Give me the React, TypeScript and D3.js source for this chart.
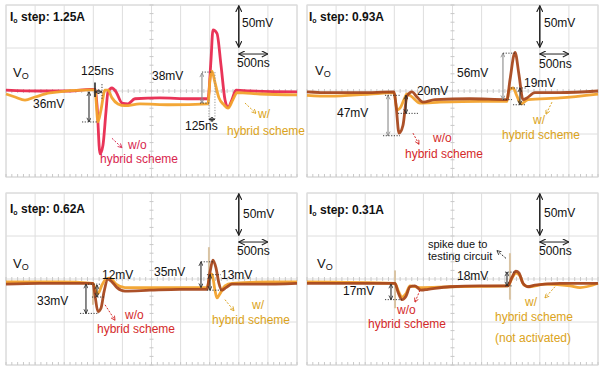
import React from "react"
import * as d3 from "d3"

type Pt = [number, number] // [time ns, Vo deviation mV]

// load current step of each capture
const stepCurrents = ["1.25A", "0.93A", "0.62A", "0.31A"]

// scope settings: 500ns/div, 50mV/div
const timeDomain = [0, 5000]
const voltDomain = [-100, 100]

// Vo traces without (w/o) and with (w/) the hybrid scheme
const woTrace1: Pt[] = [
  [0, 1], [584, 0], [1100, 0], [1443, 2], [1529, 2], [1563, -16], [1615, -73], [1666, -63],
  [1718, -24], [1752, -1], [1821, 3.5], [1890, -1], [1993, -14], [2096, -15], [2216, -9],
  [2646, -8], [3161, -9], [3470, -9], [3522, 36], [3556, 71], [3625, 67], [3694, 30],
  [3762, -10], [3814, -19], [3883, -10], [3952, 1], [4192, 0], [5000, -1],
]
const wTrace1: Pt[] = [
  [0, -3.5], [155, -7], [326, -10.5], [498, -7], [756, -2.3], [1443, 1.2], [1529, 1.2],
  [1580, -36], [1632, -22], [1700, 1], [1752, 1], [1821, -8], [1924, -15], [2044, -17],
  [2302, -15], [2818, -16], [3470, -15], [3505, 13], [3539, 23], [3590, 10], [3659, -8],
  [3745, -16], [3814, -20], [3900, -10], [3969, -2], [4364, -3.5], [5000, -4.6],
]
const woTrace2: Pt[] = [
  [0, -1], [395, -2], [910, -2], [1495, -1], [1529, -16], [1581, -49], [1649, -40],
  [1718, -6], [1804, -1], [1890, -7], [1993, -13], [2199, -10], [2800, -9], [3436, -10],
  [3488, 13], [3574, 45], [3642, 19], [3711, -10], [3780, -8], [3917, -2], [4347, -2], [5000, 0],
]
const wTrace2: Pt[] = [
  [0, -5], [395, -6], [1082, -3.5], [1495, -2], [1546, -22], [1598, -20], [1666, -10],
  [1718, -3.5], [1787, -6], [1941, -14], [2285, -13], [2972, -12], [3436, -12], [3470, 1],
  [3539, 3.5], [3608, -6], [3677, -15], [3797, -10], [4347, -8], [5000, -3.5],
]
const woTrace3: Pt[] = [
  [0, -6], [584, -5], [1271, -5], [1495, -5], [1529, -19], [1580, -38], [1632, -34],
  [1684, -15], [1752, 0], [1821, -3.5], [1907, -10], [2044, -14], [2474, -13], [2989, -12],
  [3453, -12], [3505, 8], [3556, 22], [3608, 13], [3659, -5], [3711, -13], [3780, -10],
  [3883, -6], [4364, -6], [5000, -5],
]
const wTrace3: Pt[] = [
  [0, -3.5], [928, -3.5], [1495, -5], [1546, -15], [1580, -17], [1649, -7], [1718, 0],
  [1787, 1], [1890, -6], [2044, -10], [2646, -10], [3453, -10], [3505, 3.5], [3539, 6],
  [3590, -13], [3625, -22], [3677, -17], [3762, -8], [3883, -5], [4536, -3.5], [5000, -3.5],
]
const woTrace4: Pt[] = [
  [0, -5], [910, -5], [1512, -5], [1563, -15], [1632, -24], [1701, -20], [1770, -9],
  [1855, -8], [1958, -13], [2079, -12], [2457, -9], [2972, -8], [3453, -8], [3522, 2],
  [3590, 9], [3642, 7], [3711, -5], [3797, -9], [3917, -7], [4347, -5], [5000, -5],
]
const wTrace4: Pt[] = [
  [0, -3.5], [1512, -5], [1563, -13], [1632, -21], [1701, -17], [1770, -8], [1941, -10],
  [2457, -9], [3453, -8], [3522, 1], [3590, 7], [3659, 3.5], [3728, -7], [3831, -9],
  [4089, -6], [4519, -8], [4691, -10], [5000, -5],
]

// switching spikes from the test circuit: [time ns, top mV, bottom mV]
const spikes3: [number, number, number][] = [[1495, -5, -30], [3487, 37, -13]]
const spikes4: [number, number, number][] = [[1512, 10, -34], [3487, 30, -24]]

// measurement marks in scope units
type Mark = { t0: number; v0: number; t1: number; v1: number; kind: "arrow" | "dot" | "solid" | "pointer"; color: string }

const mk = (kind: Mark["kind"], color: string, t0: number, v0: number, t1: number, v1: number): Mark => ({ kind, color, t0, v0, t1, v1 })
const DK = "#2a2a2a"
const GR = "#8a8a8a"
const RED1 = "#d8264f"
const RED = "#d42a2a"
const GOLD = "#dba320"

const marks1: Mark[] = [
  mk("arrow", DK, 1426, -1, 1426, -36), mk("dot", DK, 1306, -36, 1580, -36),
  mk("dot", DK, 1649, 8, 1649, -10), mk("solid", DK, 1529, 10, 1529, -7),
  mk("arrow", DK, 1529, -1, 1649, -1),
  mk("arrow", GR, 3367, -14, 3367, 21), mk("dot", DK, 3367, 22, 3556, 22),
  mk("dot", DK, 3333, -14, 3487, -14), mk("dot", GR, 3590, 22, 3590, -34),
  mk("dot", GR, 3487, -10, 3487, -34), mk("arrow", DK, 3487, -33, 3590, -33),
  mk("pointer", RED1, 1821, -55, 1993, -66), mk("pointer", GOLD, 4106, -14, 4295, -26),
]
const marks2: Mark[] = [
  mk("arrow", GR, 1392, -5, 1392, -52), mk("dot", DK, 1340, -5, 1598, -5),
  mk("dot", DK, 1306, -52, 1598, -52), mk("arrow", DK, 1700, -5, 1700, -26),
  mk("dot", DK, 1563, -26, 1907, -26),
  mk("arrow", GR, 3367, -10, 3367, 44), mk("dot", DK, 3367, 44, 3590, 44),
  mk("dot", DK, 3367, -10, 3522, -10), mk("arrow", DK, 3659, 3.5, 3659, -16),
  mk("dot", DK, 3505, 3.5, 3762, 3.5), mk("dot", DK, 3539, -16, 3762, -16),
  mk("pointer", RED, 1821, -49, 1924, -62), mk("pointer", GOLD, 4209, -13, 4106, -27),
]
const marks3: Mark[] = [
  mk("arrow", DK, 1374, -6, 1374, -40), mk("dot", DK, 1271, -40, 1598, -40),
  mk("dot", DK, 1409, -6, 1615, -6), mk("arrow", DK, 1563, -7, 1563, -21),
  mk("dot", DK, 1477, -21, 1684, -21),
  mk("arrow", DK, 3350, -10, 3350, 20), mk("dot", DK, 3350, 20, 3574, 20),
  mk("arrow", DK, 3505, 5, 3505, -13), mk("dot", DK, 3453, 5, 3694, 5),
  mk("dot", DK, 3453, -13, 3694, -13),
  mk("pointer", RED, 1701, -30, 1873, -48), mk("pointer", GOLD, 3762, -24, 3917, -37),
]
const marks4: Mark[] = [
  mk("arrow", DK, 1443, -6, 1443, -24), mk("dot", DK, 1340, -24, 1632, -24),
  mk("arrow", DK, 3436, -8, 3436, 8), mk("dot", DK, 3402, 8, 3590, 8),
  mk("dot", DK, 3402, -8, 3522, -8),
  mk("pointer", RED, 1941, -13, 1855, -27), mk("pointer", GOLD, 4261, -9, 4089, -22),
  mk("pointer", DK, 3419, 24, 3264, 33),
]

type Label = { text: string; x: number; y: number; color?: string; size?: number }

const labels1: Label[] = [
  { text: "125ns", x: 75, y: 70 }, { text: "36mV", x: 27, y: 103 }, { text: "38mV", x: 146, y: 75 },
  { text: "125ns", x: 179, y: 125 }, { text: "w/o", x: 122, y: 144, color: RED1 },
  { text: "hybrid scheme", x: 94, y: 158, color: RED1 }, { text: "w/", x: 252, y: 113, color: GOLD },
  { text: "hybrid scheme", x: 221, y: 130, color: GOLD },
]
const labels2: Label[] = [
  { text: "56mV", x: 150, y: 72 }, { text: "19mV", x: 217, y: 82 }, { text: "20mV", x: 110, y: 90 },
  { text: "47mV", x: 30, y: 112 }, { text: "w/o", x: 126, y: 137, color: RED },
  { text: "hybrid scheme", x: 98, y: 153, color: RED }, { text: "w/", x: 226, y: 119, color: GOLD },
  { text: "hybrid scheme", x: 195, y: 134, color: GOLD },
]
const labels3: Label[] = [
  { text: "12mV", x: 96, y: 86 }, { text: "33mV", x: 31, y: 112 }, { text: "35mV", x: 148, y: 83 },
  { text: "13mV", x: 215, y: 86 }, { text: "w/o", x: 119, y: 126, color: RED },
  { text: "hybrid scheme", x: 91, y: 140, color: RED }, { text: "w/", x: 246, y: 116, color: GOLD },
  { text: "hybrid scheme", x: 206, y: 131, color: GOLD },
]
const labels4: Label[] = [
  { text: "spike due to", x: 121, y: 55, size: 11 }, { text: "testing circuit", x: 121, y: 67, size: 11 },
  { text: "18mV", x: 150, y: 87 }, { text: "17mV", x: 36, y: 102 },
  { text: "w/o", x: 90, y: 121, color: RED }, { text: "hybrid scheme", x: 61, y: 135, color: RED },
  { text: "w/", x: 218, y: 113, color: GOLD }, { text: "hybrid scheme", x: 188, y: 128, color: GOLD },
  { text: "(not activated)", x: 188, y: 149, color: GOLD },
]

const W = 291
const H = 172
const FONT = "'Liberation Sans', Arial, sans-serif"

const panels = [
  { ox: 6, oy: 5, step: stepCurrents[0], wo: woTrace1, w: wTrace1, spikes: [], marks: marks1, labels: labels1,
    woColor: "#e8294f", title: [4, 16], vo: [7, 72], scaleTxt: [236, 22, 231, 62], woFirst: true },
  { ox: 307, oy: 5, step: stepCurrents[1], wo: woTrace2, w: wTrace2, spikes: [], marks: marks2, labels: labels2,
    woColor: "#a8481e", title: [2, 16], vo: [8, 70], scaleTxt: [237, 22, 232, 63], woFirst: false },
  { ox: 6, oy: 193, step: stepCurrents[2], wo: woTrace3, w: wTrace3, spikes: spikes3, marks: marks3, labels: labels3,
    woColor: "#a8481e", title: [4, 20], vo: [7, 75], scaleTxt: [237, 25, 231, 62], woFirst: false },
  { ox: 307, oy: 193, step: stepCurrents[3], wo: woTrace4, w: wTrace4, spikes: spikes4, marks: marks4, labels: labels4,
    woColor: "#a8481e", title: [2, 21], vo: [10, 75], scaleTxt: [237, 24, 232, 62], woFirst: false },
]

const markerColors = [DK, GR, RED1, RED, GOLD]
const mid = (c: string) => "ah" + c.replace("#", "")

function Panel({ p }: { p: (typeof panels)[number] }) {
  const x = d3.scaleLinear().domain(timeDomain).range([p.ox, p.ox + W])
  const y = d3.scaleLinear().domain(voltDomain).range([p.oy + H, p.oy])
  const line = d3.line<Pt>().x((d) => x(d[0])).y((d) => y(d[1])).curve(d3.curveMonotoneX)

  const vTicks = d3.range(0, 5001, 500)
  const hTicks = d3.range(-100, 101, 50)
  const minorT = d3.range(0, 5001, 100)
  const minorV = d3.range(-100, 101, 10)

  const woPath = (
    <path key="wo" d={line(p.wo) || ""} fill="none" stroke={p.woColor} strokeWidth={2.8} strokeLinejoin="round" opacity={0.95} />
  )
  const wPath = (
    <path key="w" d={line(p.w) || ""} fill="none" stroke="#f2a22c" strokeWidth={2.8} strokeLinejoin="round" opacity={0.95} />
  )

  return (
    <g>
      <rect x={p.ox} y={p.oy} width={W} height={H} fill="#fff" stroke="#d4d4d4" />
      {vTicks.map((t) => (
        <line key={"v" + t} x1={x(t)} x2={x(t)} y1={p.oy} y2={p.oy + H} stroke="#dedede" />
      ))}
      {hTicks.map((v) => (
        <line key={"h" + v} x1={p.ox} x2={p.ox + W} y1={y(v)} y2={y(v)} stroke="#dedede" />
      ))}
      {minorT.map((t) => (
        <g key={"mt" + t} stroke="#c8c8c8">
          <line x1={x(t)} x2={x(t)} y1={p.oy + H} y2={p.oy + H - 3} />
          <line x1={x(t)} x2={x(t)} y1={y(0) - 2} y2={y(0) + 2} />
        </g>
      ))}
      {minorV.map((v) => (
        <line key={"mv" + v} x1={x(2500) - 2} x2={x(2500) + 2} y1={y(v)} y2={y(v)} stroke="#c8c8c8" />
      ))}

      {p.spikes.map((s, i) => (
        <line key={"s" + i} x1={x(s[0])} x2={x(s[0])} y1={y(s[1])} y2={y(s[2])} stroke="#d9c4a4" strokeWidth={2} />
      ))}
      {p.woFirst ? [woPath, wPath] : [wPath, woPath]}

      {p.marks.map((m, i) => {
        const common = { x1: x(m.t0), y1: y(m.v0), x2: x(m.t1), y2: y(m.v1) }
        if (m.kind === "dot")
          return <line key={i} {...common} stroke={m.color} strokeWidth={0.9} strokeDasharray="1.2 1.5" />
        if (m.kind === "solid") return <line key={i} {...common} stroke={m.color} strokeWidth={1.6} />
        if (m.kind === "pointer")
          return (
            <line key={i} {...common} stroke={m.color} strokeWidth={1} strokeDasharray="2 1.5" markerEnd={`url(#${mid(m.color)})`} />
          )
        return (
          <line key={i} {...common} stroke={m.color} strokeWidth={1.1}
            markerStart={`url(#${mid(m.color)})`} markerEnd={`url(#${mid(m.color)})`} />
        )
      })}

      {/* scale bars */}
      <line x1={x(4000)} x2={x(4000)} y1={y(99)} y2={y(51)} stroke="#222" strokeWidth={1.5}
        markerStart="url(#ahBig)" markerEnd="url(#ahBig)" />
      <line x1={x(4000)} x2={x(4500)} y1={y(43)} y2={y(43)} stroke="#222" strokeWidth={1}
        markerStart="url(#ahBig)" markerEnd="url(#ahBig)" />

      <g fontFamily={FONT} fontSize={12} fill="#111">
        <text x={p.ox + p.scaleTxt[0]} y={p.oy + p.scaleTxt[1]}>50mV</text>
        <text x={p.ox + p.scaleTxt[2]} y={p.oy + p.scaleTxt[3]}>500ns</text>
        <text x={p.ox + p.title[0]} y={p.oy + p.title[1]} fontWeight="bold">
          I<tspan fontSize={7} dy={2}>o</tspan>
          <tspan dy={-2}> step: {p.step}</tspan>
        </text>
        <text x={p.ox + p.vo[0]} y={p.oy + p.vo[1]} fontSize={13}>
          V<tspan fontSize={9} dy={2}>O</tspan>
        </text>
        {p.labels.map((l, i) => (
          <text key={i} x={p.ox + l.x} y={p.oy + l.y} fill={l.color || "#111"} fontSize={l.size || 12}>
            {l.text}
          </text>
        ))}
      </g>
    </g>
  )
}

export default function App() {
  return (
    <div style={{ position: "absolute", left: 0, top: 0 }}>
      <svg width={602} height={371} style={{ display: "block", background: "#fff" }}>
        <defs>
          {markerColors.map((c) => (
            <marker key={c} id={mid(c)} viewBox="0 0 6 6" refX={5.5} refY={3} markerWidth={5} markerHeight={5}
              markerUnits="userSpaceOnUse" orient="auto-start-reverse">
              <path d="M0.5,0.5 L5.5,3 L0.5,5.5" fill="none" stroke={c} strokeWidth={1} />
            </marker>
          ))}
          <marker id="ahBig" viewBox="0 0 8 8" refX={7.5} refY={4} markerWidth={7} markerHeight={7}
            markerUnits="userSpaceOnUse" orient="auto-start-reverse">
            <path d="M0.5,0.5 L7.5,4 L0.5,7.5" fill="none" stroke="#222" strokeWidth={1.3} />
          </marker>
        </defs>
        {panels.map((p, i) => (
          <Panel key={i} p={p} />
        ))}
      </svg>
    </div>
  )
}
